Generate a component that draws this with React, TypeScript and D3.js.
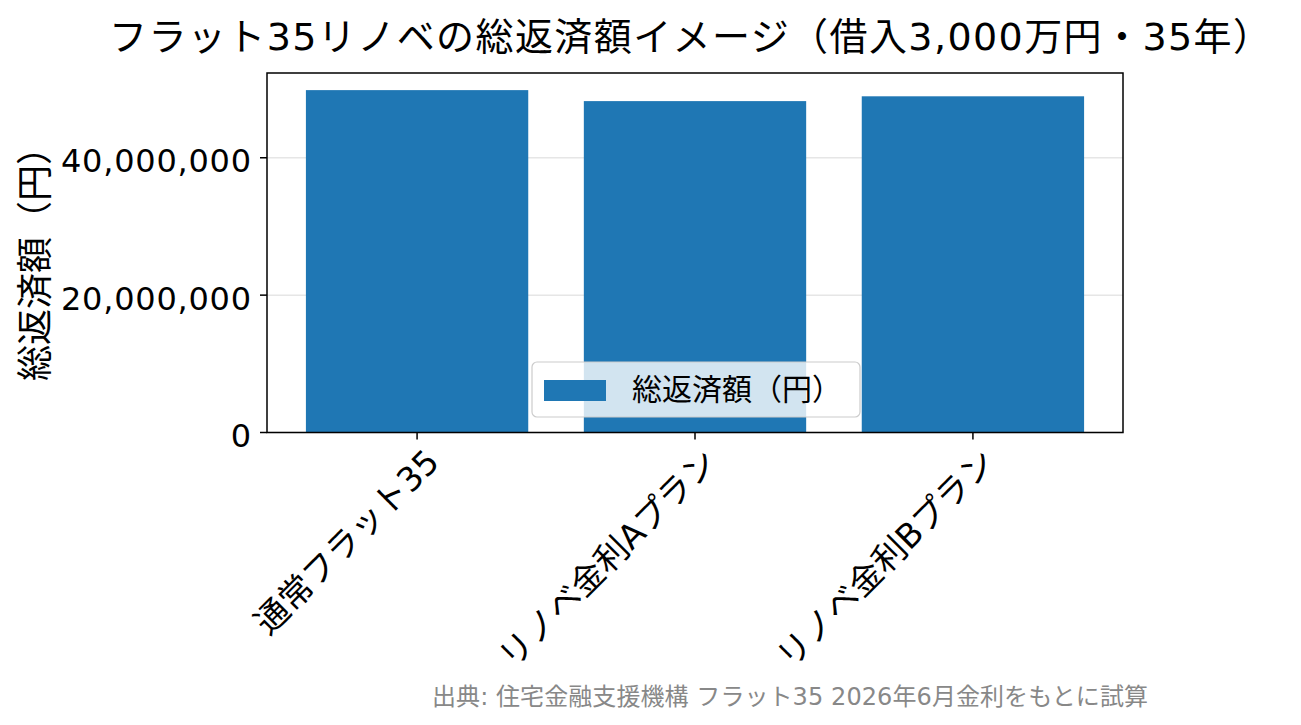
import React from "react";
import * as d3 from "d3";

const categories = ["通常フラット35", "リノベ金利Aプラン", "リノベ金利Bプラン"];
const totals = [49850000, 48250000, 48950000];
const yTicks = [0, 20000000, 40000000];
const title = "フラット35リノベの総返済額イメージ（借入3,000万円・35年）";
const yLabel = "総返済額（円）";
const legendLabel = "総返済額（円）";
const source = "出典: 住宅金融支援機構 フラット35 2026年6月金利をもとに試算";

const W = 1301, H = 725;
const L = 267, R = 1123, T = 73, B = 432.5;
const FONT = "'DejaVu Sans', 'Noto Sans CJK JP', sans-serif";
const CJK = "'Noto Sans CJK JP', sans-serif";
const BLUE = "#1f77b4";

export default function App() {
  const x = d3.scaleLinear().domain([-0.54, 2.54]).range([L, R]);
  const yMax = d3.max(totals)! * 1.05;
  const y = d3.scaleLinear().domain([0, yMax]).range([B, T]);
  const fmt = d3.format(",");
  const bw = x(0.8) - x(0);
  return (
    <svg width={W} height={H} style={{ position: "absolute", left: 0, top: 0, background: "#fff" }} fontFamily={FONT}>
      <rect x={0} y={0} width={W} height={H} fill="#fff" />
      <text x={109} y={50} fontSize={38} fill="#000" textLength={1162} lengthAdjust="spacing">{title}</text>
      {yTicks.map((t) => (
        <line key={"g" + t} x1={L} x2={R} y1={y(t)} y2={y(t)} stroke="#e6e6e6" strokeWidth={1.5} />
      ))}
      {totals.map((v, i) => (
        <rect key={i} x={x(i) - bw / 2} y={y(v)} width={bw} height={B - y(v)} fill={BLUE} />
      ))}
      <rect x={L} y={T} width={R - L} height={B - T} fill="none" stroke="#000" strokeWidth={1.5} />
      {yTicks.map((t) => (
        <g key={"t" + t}>
          <line x1={L - 7} x2={L} y1={y(t)} y2={y(t)} stroke="#000" strokeWidth={1.5} />
          <text x={251} y={y(t)} dy="0.46em" textAnchor="end" fontSize={32} fill="#000"
            {...(t > 0 ? { textLength: 190, lengthAdjust: "spacing" } : {})}>{fmt(t)}</text>
        </g>
      ))}
      {categories.map((c, i) => (
        <g key={"x" + i}>
          <line x1={x(i)} x2={x(i)} y1={B} y2={B + 7} stroke="#000" strokeWidth={1.5} />
          <text transform={`translate(${x(i) + 24},${464}) rotate(-45)`} textAnchor="end" fontSize={33.5} fill="#000">{c}</text>
        </g>
      ))}
      <text transform={`translate(48,255) rotate(-90)`} textAnchor="middle" fontSize={36} fontFamily={CJK} fill="#000">{yLabel}</text>
      <g>
        <rect x={532} y={362} width={328} height={55} rx={5} fill="#fff" fillOpacity={0.8} stroke="#cccccc" strokeWidth={1.2} />
        <rect x={544} y={380} width={62} height={21} fill={BLUE} />
        <text x={632} y={400} fontSize={30} fontFamily={CJK} fill="#000">{legendLabel}</text>
      </g>
      <text x={432} y={705} fontSize={24} fill="#888" textLength={716} lengthAdjust="spacing">{source}</text>
    </svg>
  );
}
